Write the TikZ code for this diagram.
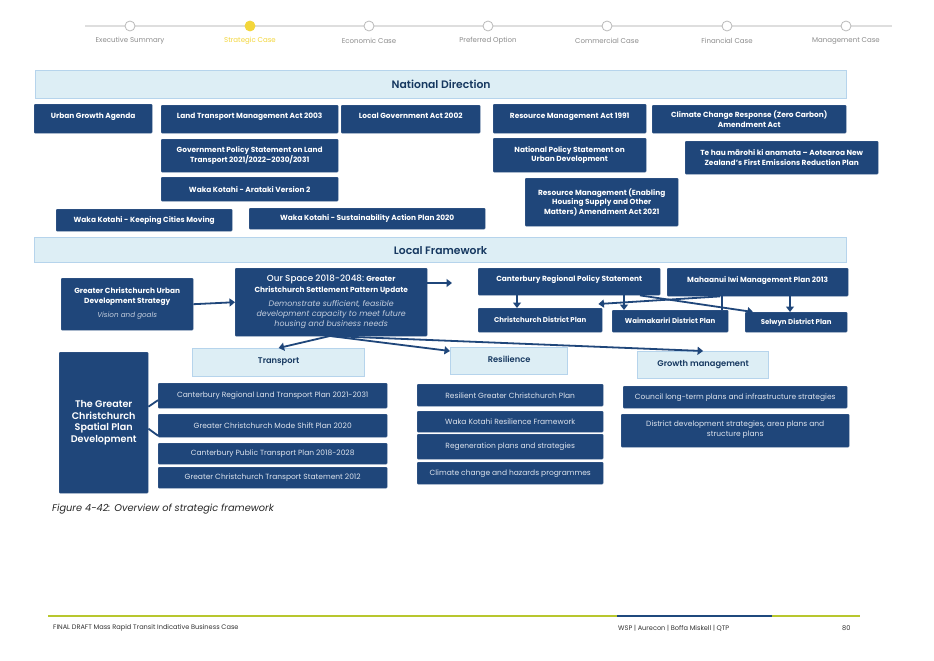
\documentclass[tikz,border=0pt]{standalone}
\usepackage{fontspec}
\setmainfont{Poppins}
\IfFontExistsTF{Poppins SemiBold}{\newfontfamily\semib{Poppins SemiBold}}{\newcommand\semib{\bfseries}}
\IfFontExistsTF{Poppins Medium}{\newfontfamily\medf{Poppins Medium}}{\newcommand\medf{\mdseries}}
\usetikzlibrary{arrows.meta}
\definecolor{boxblue}{RGB}{31,70,122}
\definecolor{lightfill}{RGB}{221,238,245}
\definecolor{lightborder}{RGB}{182,212,236}
\definecolor{titleblue}{RGB}{22,56,96}
\definecolor{listtext}{RGB}{222,228,238}
\definecolor{italtext}{RGB}{196,206,222}
\definecolor{greyline}{RGB}{222,222,222}
\definecolor{greytext}{RGB}{140,140,140}
\definecolor{activeyellow}{RGB}{243,214,58}
\definecolor{footgreen}{RGB}{184,199,46}
\definecolor{footblue}{RGB}{31,73,125}
\newcommand\bx[7]{\node[#1, anchor=north west, minimum width={(#4-#2)*1pt}, minimum height={(#5-#3)*1pt}] (#6) at (#2,#3) {#7};}
\newcommand\itblock[2]{{\mdseries\itshape\color{italtext}\fontsize{#1}{9.6}\selectfont\renewcommand\arraystretch{1}\begin{tabular}{@{}c@{}}#2\end{tabular}}}
\tikzset{
  dbox/.style={fill=boxblue, draw=boxblue!85!white, line width=0.4pt, rounded corners=1pt, inner sep=1pt, align=center, text=white},
  nbox/.style={dbox, font=\fontsize{7.4}{9.4}\selectfont\bfseries},
  upper/.style={text depth=6pt},
  lbox/.style={dbox, text=listtext, font=\fontsize{7.5}{9.4}\selectfont},
  bar/.style={fill=lightfill, draw=lightborder, line width=1.2pt, inner sep=0pt, text=titleblue, font=\fontsize{10.8}{12}\selectfont\semib},
  theme/.style={fill=lightfill, draw=lightborder, line width=1.2pt, inner sep=0pt, text=titleblue, font=\fontsize{8.3}{9}\selectfont\semib, text depth=4pt},
  arr/.style={draw=boxblue, line width=1.8pt, -{Triangle[length=5.5pt,width=8pt]}},
  plainln/.style={draw=boxblue, line width=1.8pt},
  stepdot/.style={circle, draw=greytext!60, fill=white, line width=0.8pt, minimum size=10pt, inner sep=0pt},
  steplbl/.style={text=greytext, font=\fontsize{7}{8}\selectfont},
  foot/.style={text=black!80, font=\fontsize{6.6}{7}\selectfont, anchor=west, inner sep=0pt},
}
\begin{document}
\begin{tikzpicture}[x=1pt,y=-1pt]
\useasboundingbox[fill=white] (0,0) rectangle (934,661);

% progress bar
\coordinate (pl) at (85,26);
\coordinate (pr) at (892,26);
\draw[greyline, line width=1.5pt] (pl) -- (pr);
\node[stepdot] (s1) at (130,26) {};
\node[stepdot, fill=activeyellow, draw=activeyellow] (s2) at (250,26) {};
\node[stepdot] (s3) at (369,26) {};
\node[stepdot] (s4) at (488,26) {};
\node[stepdot] (s5) at (607,26) {};
\node[stepdot] (s6) at (727,26) {};
\node[stepdot] (s7) at (846,26) {};
\node[steplbl] (l1) at (130,41) {Executive Summary};
\node[steplbl, text=activeyellow] (l2) at (250,41) {Strategic Case};
\node[steplbl] (l3) at (369,41) {Economic Case};
\node[steplbl] (l4) at (488,41) {Preferred Option};
\node[steplbl] (l5) at (607,41) {Commercial Case};
\node[steplbl] (l6) at (727,41) {Financial Case};
\node[steplbl] (l7) at (846,41) {Management Case};

% National direction
\bx{bar}{35}{70}{846}{98}{natbar}{National Direction}
\bx{nbox, upper}{34}{104}{152}{133}{uga}{Urban Growth Agenda}
\bx{nbox, upper}{161}{105}{338}{133}{ltma}{Land Transport Management Act 2003}
\bx{nbox, upper}{341}{105}{480}{133}{lga}{Local Government Act 2002}
\bx{nbox, upper}{493}{104}{646}{133}{rma}{Resource Management Act 1991}
\bx{nbox}{652}{105}{846}{133}{ccr}{Climate Change Response (Zero Carbon)\\Amendment Act}
\bx{nbox}{161}{139}{338}{172}{gps}{Government Policy Statement on Land\\Transport 2021/2022–2030/2031}
\bx{nbox}{493}{138}{646}{172}{npsud}{National Policy Statement on\\Urban Development}
\bx{nbox}{685}{141}{878}{174}{tehau}{Te hau mārohi ki anamata – Aotearoa New\\Zealand’s First Emissions Reduction Plan}
\bx{nbox}{161}{177}{338}{201}{arataki}{Waka Kotahi - Arataki Version 2}
\bx{nbox}{525}{178}{678}{226}{rmea}{Resource Management (Enabling\\Housing Supply and Other\\Matters) Amendment Act 2021}
\bx{nbox}{56}{209}{232}{231}{kcm}{Waka Kotahi - Keeping Cities Moving}
\bx{nbox}{249}{208}{485}{229}{sap}{Waka Kotahi - Sustainability Action Plan 2020}

% Local framework
\bx{bar}{34}{237}{846}{262}{locbar}{Local Framework}
\bx{nbox}{61}{278}{193}{330}{gcuds}{Greater Christchurch Urban\\Development Strategy\\[5pt]\itblock{7.2}{Vision and goals}}
\bx{nbox, font=\fontsize{7.4}{10.4}\selectfont\bfseries}{235}{268}{427}{336}{ourspace}{{\medf\mdseries\fontsize{8.8}{10}\selectfont Our Space 2018-2048:} Greater\\Christchurch Settlement Pattern Update\\[5pt]\itblock{7.9}{Demonstrate sufficient, feasible\\development capacity to meet future\\housing and business needs}}
\bx{nbox, upper}{478}{268}{660}{295}{crps}{Canterbury Regional Policy Statement}
\bx{nbox, upper}{667}{268}{848}{296}{mah}{Mahaanui Iwi Management Plan 2013}
\bx{nbox, font=\fontsize{7}{8}\selectfont\bfseries}{478}{308}{602}{332}{chch}{Christchurch District Plan}
\bx{nbox, font=\fontsize{7}{8}\selectfont\bfseries}{612}{310}{728}{332}{waimak}{Waimakariri District Plan}
\bx{nbox, font=\fontsize{7}{8}\selectfont\bfseries}{745}{312}{847}{332}{selwyn}{Selwyn District Plan}

\bx{theme}{192}{348}{364}{376}{transport}{Transport}
\bx{theme}{450}{347}{567}{374}{resilience}{Resilience}
\bx{theme}{637}{351}{768}{378}{growth}{Growth management}

\bx{dbox, font=\fontsize{9.6}{11.6}\selectfont\semib}{59}{352}{148}{493}{spatial}{The Greater\\Christchurch\\Spatial Plan\\Development}
\bx{lbox}{158}{383}{387}{408}{tr1}{Canterbury Regional Land Transport Plan 2021-2031}
\bx{lbox}{158}{414}{387}{437}{tr2}{Greater Christchurch Mode Shift Plan 2020}
\bx{lbox}{158}{443}{387}{464}{tr3}{Canterbury Public Transport Plan 2018-2028}
\bx{lbox}{158}{467}{387}{488}{tr4}{Greater Christchurch Transport Statement 2012}
\bx{lbox}{417}{384}{603}{406}{re1}{Resilient Greater Christchurch Plan}
\bx{lbox}{417}{411}{603}{432}{re2}{Waka Kotahi Resilience Framework}
\bx{lbox}{417}{434}{603}{459}{re3}{Regeneration plans and strategies}
\bx{lbox}{417}{462}{603}{484}{re4}{Climate change and hazards programmes}
\bx{lbox}{623}{386}{847}{408}{gr1}{Council long-term plans and infrastructure strategies}
\bx{lbox, text depth=4pt}{621}{414}{849}{447}{gr2}{District development strategies, area plans and\\structure plans}

% connectors
\coordinate (osend) at (452,283);
\coordinate (osb) at (330,336);
\draw[arr] (gcuds.east) -- (ourspace.west);
\draw[arr] (ourspace.east |- osend) -- (osend);
\draw[arr] (osb) -- (transport.north);
\draw[arr] (osb) -- ([yshift=-4pt]resilience.north west);
\draw[arr] (osb) -- (growth.north);
\draw[arr] ([xshift=39pt]crps.south west) -- ([xshift=39pt]chch.north west);
\draw[arr] ([xshift=146pt]crps.south west) -- ([xshift=12pt]waimak.north west);
\draw[arr] ([xshift=162pt]crps.south west) -- ([xshift=8pt]selwyn.north west);
\draw[arr] ([xshift=123pt]mah.south west) -- ([xshift=45pt]selwyn.north west);
\draw[plainln] ([xshift=55pt]mah.south west) -- ([xshift=110pt]waimak.north west);
\draw[arr] ([xshift=53pt]mah.south west) -- ([xshift=-4pt,yshift=4pt]chch.north east);
\draw[plainln] ([yshift=16pt]spatial.east) -- ([yshift=-4.5pt]tr1.west);
\draw[plainln] ([yshift=-6pt]spatial.east) -- ([yshift=-10pt]tr2.west);

% caption
\node[anchor=west, inner sep=0pt, font=\fontsize{9.8}{11}\selectfont\itshape, text=black!85] (cap) at (52,509) {Figure 4-42: Overview of strategic framework};

% footer
\coordinate (fl) at (48,616);
\coordinate (fr) at (860,616);
\coordinate (fb1) at (617,616);
\coordinate (fb2) at (772,616);
\draw[footgreen, line width=2.6pt] (fl) -- (fr);
\draw[footblue, line width=2.6pt] (fb1) -- (fb2);
\node[foot] (f1) at (53,628) {FINAL DRAFT Mass Rapid Transit Indicative Business Case};
\node[foot] (f2) at (618,628) {WSP | Aurecon | Boffa Miskell | QTP};
\node[foot] (f3) at (842,628) {80};
\end{tikzpicture}
\end{document}
